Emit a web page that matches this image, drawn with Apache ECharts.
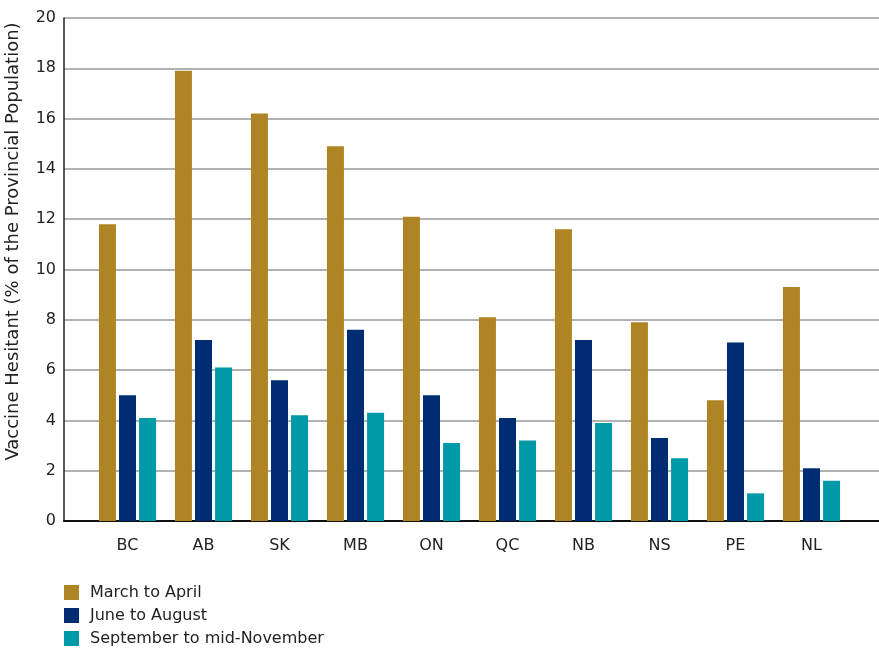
<!DOCTYPE html>
<html>
<head>
<meta charset="utf-8">
<script src="https://cdn.jsdelivr.net/npm/echarts@6/dist/echarts.min.js"></script>
<style>html,body{margin:0;padding:0;background:#fff}#c{width:879px;height:649px}</style>
</head>
<body>
<div id="c"></div>
<script>
var categories = ['BC','AB','SK','MB','ON','QC','NB','NS','PE','NL'];
var seriesNames = ['March to April','June to August','September to mid-November'];
var marchApril = [11.8,17.9,16.2,14.9,12.1,8.1,11.6,7.9,4.8,9.3];
var juneAugust = [5.0,7.2,5.6,7.6,5.0,4.1,7.2,3.3,7.1,2.1];
var septNov = [4.1,6.1,4.2,4.3,3.1,3.2,3.9,2.5,1.1,1.6];
var colors = ['#AE8424','#002D72','#0099A8'];
var yTicks = {min:0, max:20, interval:2};
var yName = 'Vaccine Hesitant (% of the Provincial Population)';

var font = 'DejaVu Sans';
var chart = echarts.init(document.getElementById('c'));
var values = [marchApril, juneAugust, septNov];
chart.setOption({
  animation:false,
  color: colors,
  textStyle:{fontFamily:font},
  legend:{
    orient:'vertical', left:64, top:583, padding:0,
    itemWidth:15, itemHeight:15, itemGap:4,
    icon:'rect',
    textStyle:{fontFamily:font, fontSize:16, lineHeight:19, color:'#222', padding:[0,0,0,6]},
    data: seriesNames
  },
  grid:[
    {left:64, right:0, top:18, bottom:128, outerBoundsMode:'none', containLabel:false},
    {left:89.5, right:29.5, top:18, bottom:128, outerBoundsMode:'none', containLabel:false}
  ],
  xAxis:[
    {gridIndex:0, type:'value', min:0, max:1, show:true,
     axisLine:{show:true, onZero:false, lineStyle:{color:'#111', width:2}},
     axisTick:{show:false}, axisLabel:{show:false}, splitLine:{show:false}},
    {gridIndex:1, type:'category', data:categories,
     axisLine:{show:false}, axisTick:{show:false},
     axisLabel:{fontFamily:font, fontSize:16, color:'#222', margin:17}}
  ],
  yAxis:[
    {gridIndex:0, type:'value', min:yTicks.min, max:yTicks.max, interval:yTicks.interval,
     name:yName, nameLocation:'middle', nameGap:42, nameRotate:90,
     nameTextStyle:{fontFamily:font, fontSize:18, color:'#222', padding:[0,0,0,56]},
     axisLine:{show:true, lineStyle:{color:'#222', width:1.5}},
     axisTick:{show:false},
     axisLabel:{fontFamily:font, fontSize:16, color:'#222', margin:8},
     splitLine:{show:true, lineStyle:{color:'#999', width:1.5}}},
    {gridIndex:1, type:'value', min:yTicks.min, max:yTicks.max, interval:yTicks.interval, show:false}
  ],
  series: seriesNames.map(function(n,i){
    return {name:n, type:'bar', xAxisIndex:1, yAxisIndex:1, data:values[i],
      barWidth:17, barGap:'18%'};
  })
});
</script>
</body>
</html>
